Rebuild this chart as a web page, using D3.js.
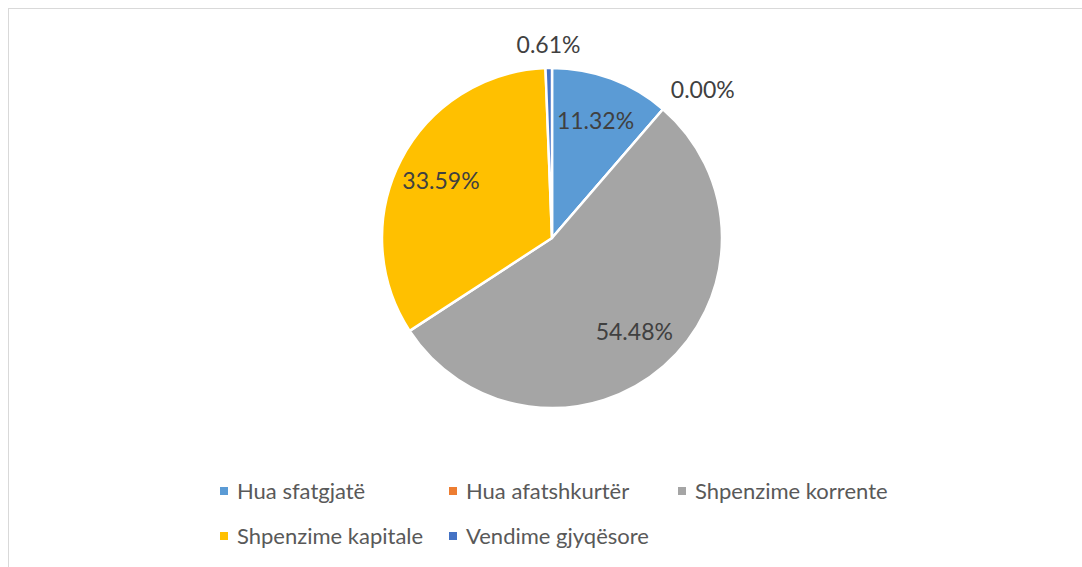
<!DOCTYPE html>
<html>
<head>
<meta charset="utf-8">
<script src="https://cdn.jsdelivr.net/npm/d3@7"></script>
<style>
  body { margin: 0; background: #fff; }
  text { font-family: Lato, 'Open Sans', sans-serif; }
</style>
</head>
<body>
<div id="chart"></div>
<script>
const categories = ['Hua sfatgjatë', 'Hua afatshkurtër', 'Shpenzime korrente', 'Shpenzime kapitale', 'Vendime gjyqësore']
const values = [11.32, 0.0, 54.48, 33.59, 0.61]
const colors = ['#5B9BD5', '#ED7D31', '#A5A5A5', '#FFC000', '#4472C4']

const w = 1082
const h = 567
const cx = 552
const cy = 238
const radius = 170
const fontSize = 22
const labelSize = 23

const svg = d3.select('#chart').append('svg').attr('width', w).attr('height', h)

// chart frame (runs off right and bottom)
svg.append('rect')
  .attr('x', 8.5).attr('y', 8.5)
  .attr('width', w + 10).attr('height', h + 10)
  .attr('fill', '#fff').attr('stroke', '#d9d9d9')

const data = categories.map((c, i) => ({ name: c, value: values[i], color: colors[i] }))

const pie = d3.pie().sort(null).value((d) => d.value)
const arcs = pie(data)
const arc = d3.arc().innerRadius(0).outerRadius(radius)
const labelArc = d3.arc().innerRadius(125).outerRadius(125)

const g = svg.append('g').attr('transform', 'translate(' + cx + ',' + cy + ')')

g.selectAll('path')
  .data(arcs)
  .join('path')
  .attr('d', arc)
  .attr('fill', (d) => d.data.color)
  .attr('stroke', '#fff')
  .attr('stroke-width', 2.5)
  .attr('stroke-linejoin', 'round')

// data labels: inside for big slices, outside for tiny ones
g.selectAll('text.label')
  .data(arcs)
  .join('text')
  .attr('class', 'label')
  .attr('fill', '#404040')
  .style('font-size', labelSize + 'px')
  .text((d) => d.data.value.toFixed(2) + '%')
  .each(function (d) {
    const t = d3.select(this)
    const mid = (d.startAngle + d.endAngle) / 2
    if (d.data.value >= 5) {
      const c = labelArc.centroid(d)
      t.attr('x', c[0]).attr('y', c[1]).attr('dy', '0.35em').attr('text-anchor', 'middle')
    } else {
      const r = radius + 12
      const x = Math.sin(mid) * r
      const y = -Math.cos(mid) * r
      if (Math.abs(Math.sin(mid)) < 0.3) {
        t.attr('x', x).attr('y', y - 3).attr('text-anchor', 'middle')
      } else {
        t.attr('x', x).attr('y', y - 2).attr('text-anchor', Math.sin(mid) > 0 ? 'start' : 'end')
      }
    }
  })

// legend
const colX = d3.scaleLinear().domain([0, 1]).range([220, 449])
const rowY = d3.scaleLinear().domain([0, 1]).range([491, 536])
const perRow = 3

const legend = svg.append('g').attr('id', 'legend')
const items = legend.selectAll('g')
  .data(data)
  .join('g')
  .attr('transform', (d, i) => 'translate(' + colX(i % perRow) + ',' + rowY(Math.floor(i / perRow)) + ')')

items.append('rect')
  .attr('x', 0).attr('y', -4)
  .attr('width', 8).attr('height', 8)
  .attr('fill', (d) => d.color)

items.append('text')
  .attr('x', 17).attr('dy', '0.35em')
  .attr('fill', '#595959')
  .style('font-size', fontSize + 'px')
  .text((d) => d.name)
</script>
</body>
</html>
